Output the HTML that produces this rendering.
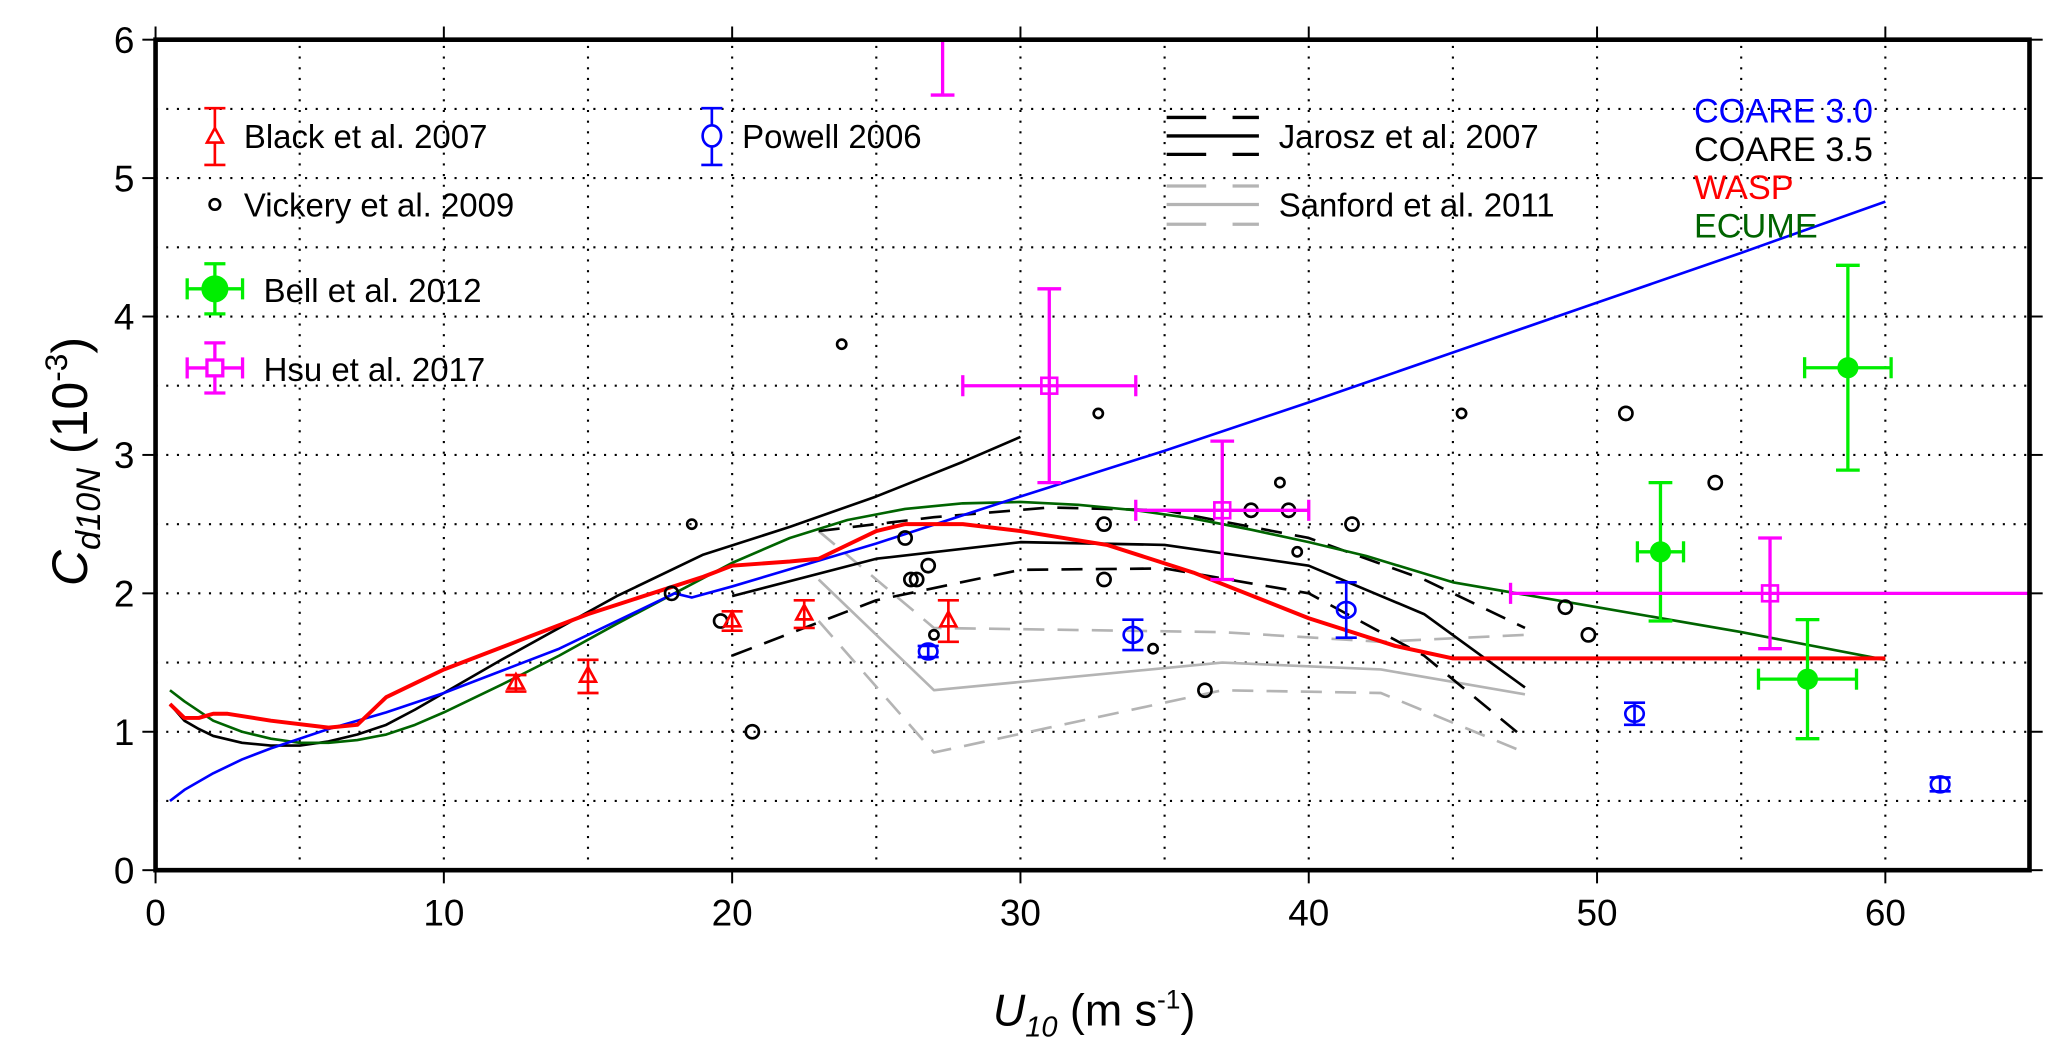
<!DOCTYPE html>
<html><head><meta charset="utf-8"><style>
html,body{margin:0;padding:0;background:#fff;}
svg{display:block;font-family:"Liberation Sans",Arial,sans-serif;}
</style></head><body>
<svg id="chart" width="2067" height="1043" viewBox="0 0 1568 791" xmlns="http://www.w3.org/2000/svg">
<g id="grid"></g>
<g id="series"></g>
<g id="axes"></g>
<g id="legend">
<text x="185" y="112" font-size="25">Black et al. 2007</text>
<text x="563" y="112" font-size="25">Powell 2006</text>
<text x="185" y="164" font-size="25">Vickery et al. 2009</text>
<text x="200" y="229" font-size="25">Bell et al. 2012</text>
<text x="200" y="289" font-size="25">Hsu et al. 2017</text>
<text x="970" y="112" font-size="25">Jarosz et al. 2007</text>
<text x="970" y="164" font-size="25">Sanford et al. 2011</text>
<text x="1285" y="93" font-size="26" fill="#0000ff">COARE 3.0</text>
<text x="1285" y="122" font-size="26" fill="#000">COARE 3.5</text>
<text x="1285" y="151" font-size="26" fill="#ff0000">WASP</text>
<text x="1285" y="180" font-size="26" fill="#006400">ECUME</text>
<g stroke="#000" stroke-width="2.5"><line x1="885" y1="89" x2="915" y2="89"/><line x1="935" y1="89" x2="955" y2="89"/><line x1="885" y1="103" x2="955" y2="103"/><line x1="885" y1="117" x2="915" y2="117"/><line x1="935" y1="117" x2="955" y2="117"/></g>
<g stroke="#b4b4b4" stroke-width="2.5"><line x1="885" y1="141" x2="915" y2="141"/><line x1="935" y1="141" x2="955" y2="141"/><line x1="885" y1="155" x2="955" y2="155"/><line x1="885" y1="170" x2="915" y2="170"/><line x1="935" y1="170" x2="955" y2="170"/></g>
<g stroke="#ff0000" stroke-width="2" fill="none"><line x1="163" y1="82" x2="163" y2="125"/><line x1="155" y1="82" x2="171" y2="82"/><line x1="155" y1="125" x2="171" y2="125"/><polygon points="163,97 157,108 169,108" fill="#fff"/></g>
<g stroke="#0000ff" stroke-width="2" fill="none"><line x1="540" y1="82" x2="540" y2="125"/><line x1="532" y1="82" x2="548" y2="82"/><line x1="532" y1="125" x2="548" y2="125"/><ellipse cx="540" cy="103" rx="7" ry="8" fill="#fff"/></g>
<circle cx="163" cy="155" r="4" stroke="#000" stroke-width="2" fill="none"/>
<g stroke="#00ee00" stroke-width="2.5"><line x1="163" y1="200" x2="163" y2="238"/><line x1="155" y1="200" x2="171" y2="200"/><line x1="155" y1="238" x2="171" y2="238"/><line x1="142" y1="219" x2="184" y2="219"/><line x1="142" y1="211" x2="142" y2="227"/><line x1="184" y1="211" x2="184" y2="227"/><circle cx="163" cy="219" r="9" fill="#00ee00"/></g>
<g stroke="#ff00ff" stroke-width="2.5" fill="none"><line x1="163" y1="260" x2="163" y2="298"/><line x1="155" y1="260" x2="171" y2="260"/><line x1="155" y1="298" x2="171" y2="298"/><line x1="142" y1="279" x2="184" y2="279"/><line x1="142" y1="271" x2="142" y2="287"/><line x1="184" y1="271" x2="184" y2="287"/><rect x="157" y="273" width="12" height="12" fill="#fff"/></g>
</g>
</svg>
<script>
// axis: x 0..65, y 0..6
const xTicks=[0,10,20,30,40,50,60];
const yTicks=[0,1,2,3,4,5,6];
const coare30X=[0.5,1,2,3,4,6,8,10,12,14,16,18,18.6,20,25,30,35,40,45,50,55,60];
const coare30Y=[0.5,0.58,0.7,0.8,0.88,1.02,1.14,1.28,1.44,1.6,1.8,2.0,1.97,2.05,2.36,2.7,3.03,3.38,3.74,4.1,4.46,4.83];
const coare35X=[0.5,1,1.5,2,3,4,5,6,7,8,9,10,12,14,16,19,22,25,28,30];
const coare35Y=[1.2,1.08,1.02,0.97,0.92,0.9,0.9,0.93,0.98,1.05,1.16,1.28,1.52,1.75,1.98,2.28,2.48,2.7,2.95,3.13];
const waspX=[0.5,1,1.5,2,2.5,4,6,7,7.5,8,9,10,15,19,20,22,23,24,25,26,28,30,33,36,40,43,45,50,55,60];
const waspY=[1.2,1.1,1.1,1.13,1.13,1.08,1.03,1.05,1.15,1.25,1.35,1.45,1.85,2.12,2.2,2.23,2.25,2.35,2.45,2.5,2.5,2.45,2.35,2.15,1.82,1.62,1.53,1.53,1.53,1.53];
const ecumeX=[0.5,1,2,3,4,5,6,7,8,9,10,12,14,16,18,20,22,24,26,28,30,32,34,36,38,40,42,45,50,55,60];
const ecumeY=[1.3,1.22,1.08,1.0,0.95,0.92,0.92,0.94,0.98,1.05,1.14,1.34,1.55,1.78,2.0,2.22,2.4,2.53,2.61,2.65,2.66,2.64,2.6,2.54,2.46,2.37,2.27,2.08,1.9,1.72,1.52];
const jarX=[20,25,30,35,40,44,47.5];
const jarMid=[1.98,2.25,2.37,2.35,2.2,1.85,1.32];
const jarUpX=[23,27,31,35,40,44,47.5];
const jarUp=[2.45,2.55,2.62,2.6,2.4,2.1,1.75];
const jarLo=[1.55,1.95,2.17,2.18,2.0,1.55,0.95];
const sanX=[23,27,37,42.5,47.5];
const sanMid=[2.1,1.3,1.5,1.45,1.27];
const sanUp=[2.45,1.75,1.72,1.65,1.7];
const sanLo=[1.8,0.85,1.3,1.28,0.85];
const blackX=[12.5,15,20,22.5,27.5];
const blackY=[1.35,1.4,1.8,1.85,1.8];
const blackErr=[0.06,0.12,0.07,0.1,0.15];
const powellX=[26.8,33.9,41.3,51.3,61.9];
const powellY=[1.58,1.7,1.88,1.13,0.62];
const powellErr=[0.04,0.11,0.2,0.08,0.05];
const vickX=[18.6,17.9,19.6,20.7,23.8,26,26.2,26.4,26.8,27,32.7,32.9,32.9,34.6,36.4,38,39,39.3,39.6,41.5,45.3,48.9,49.7,51,54.1];
const vickY=[2.5,2.0,1.8,1.0,3.8,2.4,2.1,2.1,2.2,1.7,3.3,2.5,2.1,1.6,1.3,2.6,2.8,2.6,2.3,2.5,3.3,1.9,1.7,3.3,2.8];
const vickBig=[0,1,1,1,0,1,1,1,1,0,0,1,1,0,1,1,0,1,0,1,0,1,1,1,1];
const bellX=[52.2,57.3,58.7];
const bellY=[2.3,1.38,3.63];
const bellXErr=[0.8,1.7,1.5];
const bellYErr=[0.5,0.43,0.74];
const hsuX=[31,37,56,27.3];
const hsuY=[3.5,2.6,2.0,6.4];
const hsuXErr=[3,3,9,0];
const hsuYErr=[0.7,0.5,0.4,0.8];

const X=v=>118+v*21.87, Y=v=>660-v*105;
const NS='http://www.w3.org/2000/svg';
function mk(parent,tag,attrs){const e=document.createElementNS(NS,tag);for(const k in attrs)e.setAttribute(k,attrs[k]);parent.appendChild(e);return e;}
const grid=document.getElementById('grid'),ser=document.getElementById('series'),ax=document.getElementById('axes');
for(let v=5;v<65;v+=5){const l=mk(grid,'line',{x1:X(v),x2:X(v),y1:Y(0),y2:Y(6),stroke:'#000','stroke-width':1.6,'stroke-dasharray':'1.6 6.5'});

}
for(let v=0.5;v<6;v+=0.5){const l=mk(grid,'line',{x1:X(0),x2:X(65),y1:Y(v),y2:Y(v),stroke:'#000','stroke-width':1.6,'stroke-dasharray':'1.6 6.5'});

}
function line(xs,ys,color,w,dash,name){const p=mk(ser,'polyline',{points:xs.map((x,i)=>X(x)+','+Y(ys[i])).join(' '),fill:'none',stroke:color,'stroke-width':w,'stroke-dasharray':dash||'none','stroke-linejoin':'round'});

}
line(sanX,sanUp,'#b4b4b4',2,'16 10','sanford-upper');
line(sanX,sanMid,'#b4b4b4',2,'','sanford-mid');
line(sanX,sanLo,'#b4b4b4',2,'16 10','sanford-lower');
line(jarUpX,jarUp,'#000',2,'16 10','jarosz-upper');
line(jarX,jarMid,'#000',2,'','jarosz-mid');
line(jarX,jarLo,'#000',2,'16 10','jarosz-lower');
line(coare35X,coare35Y,'#000',2,'','coare35-line');
line(ecumeX,ecumeY,'#006400',2,'','ecume-line');
line(coare30X,coare30Y,'#0000ff',2,'','coare30-line');
line(waspX,waspY,'#ff0000',3,'','wasp-line');
const clip=mk(document.getElementById('chart'),'clipPath',{id:'pc'});mk(clip,'rect',{x:X(0),y:Y(6),width:X(65)-X(0),height:Y(0)-Y(6)});
const pts=mk(ser,'g',{'clip-path':'url(#pc)'});
function vbar(g,x,y,e,c,w,cap){mk(g,'line',{x1:X(x),x2:X(x),y1:Y(y-e),y2:Y(y+e),stroke:c,'stroke-width':w});[y-e,y+e].forEach(v=>mk(g,'line',{x1:X(x)-cap,x2:X(x)+cap,y1:Y(v),y2:Y(v),stroke:c,'stroke-width':w}));}
function hbar(g,x,y,e,c,w,cap){mk(g,'line',{x1:X(x-e),x2:X(x+e),y1:Y(y),y2:Y(y),stroke:c,'stroke-width':w});[x-e,x+e].forEach(v=>mk(g,'line',{x1:X(v),x2:X(v),y1:Y(y)-cap,y2:Y(y)+cap,stroke:c,'stroke-width':w}));}
vickX.forEach((x,i)=>{const c=mk(pts,'circle',{cx:X(x),cy:Y(vickY[i]),r:vickBig[i]?5:3.5,fill:'none',stroke:'#000','stroke-width':2});

});
blackX.forEach((x,i)=>{const g=mk(pts,'g',{});


vbar(g,x,blackY[i],blackErr[i],'#ff0000',2,8);const cx=X(x),cy=Y(blackY[i]);mk(g,'polygon',{points:`${cx},${cy-7} ${cx-6},${cy+4} ${cx+6},${cy+4}`,fill:'none',stroke:'#ff0000','stroke-width':2});});
powellX.forEach((x,i)=>{const g=mk(pts,'g',{});


vbar(g,x,powellY[i],powellErr[i],'#0000ff',2,8);mk(g,'ellipse',{cx:X(x),cy:Y(powellY[i]),rx:7,ry:6,fill:'none',stroke:'#0000ff','stroke-width':2});});
bellX.forEach((x,i)=>{const g=mk(pts,'g',{});


vbar(g,x,bellY[i],bellYErr[i],'#00ee00',2.5,9);hbar(g,x,bellY[i],bellXErr[i],'#00ee00',2.5,8);mk(g,'circle',{cx:X(x),cy:Y(bellY[i]),r:8,fill:'#00ee00'});});
hsuX.forEach((x,i)=>{const g=mk(pts,'g',{});


vbar(g,x,hsuY[i],hsuYErr[i],'#ff00ff',2.5,9);if(hsuXErr[i])hbar(g,x,hsuY[i],hsuXErr[i],'#ff00ff',2.5,8);mk(g,'rect',{x:X(x)-6,y:Y(hsuY[i])-6,width:12,height:12,fill:'none',stroke:'#ff00ff','stroke-width':2});});
// frame
const fr=mk(ax,'rect',{x:X(0),y:Y(6),width:X(65)-X(0),height:Y(0)-Y(6),fill:'none',stroke:'#000','stroke-width':3.5});


xTicks.forEach(v=>{mk(ax,'line',{x1:X(v),x2:X(v),y1:Y(0),y2:Y(0)+10,stroke:'#000','stroke-width':1.5});mk(ax,'line',{x1:X(v),x2:X(v),y1:Y(6),y2:Y(6)-10,stroke:'#000','stroke-width':1.5});
const t=mk(ax,'text',{x:X(v),y:Y(0)+42,'font-size':28,'text-anchor':'middle'});t.textContent=v;

});
yTicks.forEach(v=>{mk(ax,'line',{x1:X(0)-10,x2:X(0),y1:Y(v),y2:Y(v),stroke:'#000','stroke-width':1.5});mk(ax,'line',{x1:X(65),x2:X(65)+10,y1:Y(v),y2:Y(v),stroke:'#000','stroke-width':1.5});
const t=mk(ax,'text',{x:X(0)-16,y:Y(v)+10,'font-size':28,'text-anchor':'end'});t.textContent=v;

});
const xl=mk(ax,'text',{x:830,y:778,'font-size':34,'text-anchor':'middle'});


xl.innerHTML='<tspan font-style="italic">U</tspan><tspan font-style="italic" font-size="22" dy="8">10</tspan><tspan dy="-8"> (m s</tspan><tspan font-size="20" dy="-13">-1</tspan><tspan dy="13">)</tspan>';
const yl=mk(ax,'text',{x:0,y:0,'font-size':38,'text-anchor':'middle',transform:'translate(66,350) rotate(-90)'});


yl.innerHTML='<tspan font-style="italic">C</tspan><tspan font-style="italic" font-size="26" dy="10">d10N</tspan><tspan dy="-10"> (10</tspan><tspan font-size="24" dy="-15">-3</tspan><tspan dy="15">)</tspan>';
</script>
</body></html>
